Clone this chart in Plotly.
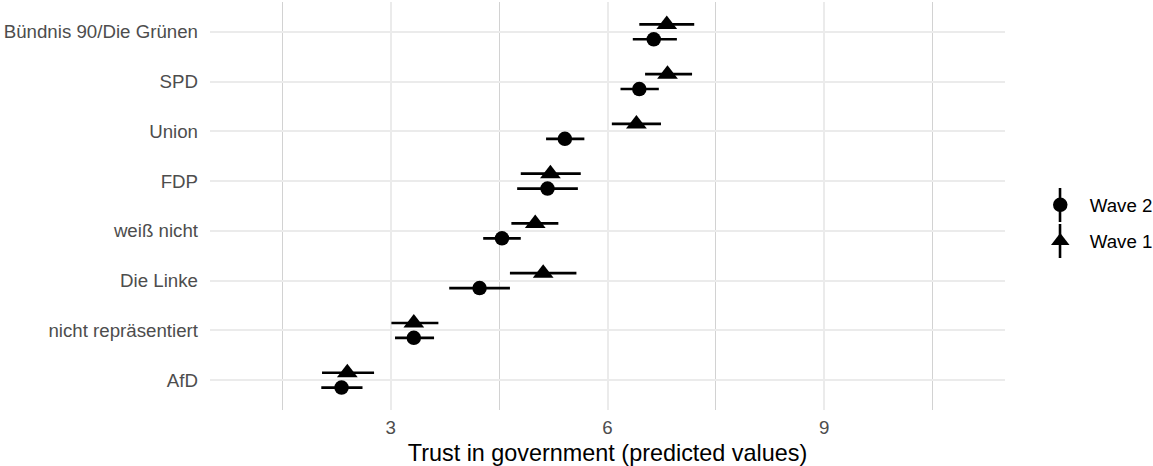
import plotly.graph_objects as go

# Categories (bottom to top)
categories = ["AfD", "nicht repräsentiert", "Die Linke", "weiß nicht",
              "FDP", "Union", "SPD", "Bündnis 90/Die Grünen"]

# Wave 2 (circles)
wave2_est = [2.32, 3.32, 4.23, 4.54, 5.17, 5.41, 6.44, 6.64]
wave2_lo  = [2.04, 3.06, 3.81, 4.28, 4.75, 5.15, 6.18, 6.35]
wave2_hi  = [2.61, 3.60, 4.65, 4.80, 5.59, 5.68, 6.71, 6.96]

# Wave 1 (triangles)
wave1_est = [2.40, 3.32, 5.11, 5.00, 5.21, 6.40, 6.83, 6.82]
wave1_lo  = [2.05, 3.01, 4.65, 4.67, 4.80, 6.06, 6.52, 6.44]
wave1_hi  = [2.77, 3.66, 5.57, 5.32, 5.63, 6.74, 7.17, 7.20]

x_ticks = [3, 6, 9]
x_minor = [1.5, 4.5, 7.5, 10.5]

FONT = "Liberation Sans, Arial, sans-serif"
dodge = 0.15
idx = list(range(1, len(categories) + 1))

def trace(name, est, lo, hi, offset, symbol, size, group):
    return go.Scatter(
        x=est,
        y=[i + offset for i in idx],
        mode="markers",
        name=name,
        legendgroup=group,
        marker=dict(symbol=symbol, size=size, color="black"),
        error_x=dict(type="data", symmetric=False,
                     array=[h - e for h, e in zip(hi, est)],
                     arrayminus=[e - l for e, l in zip(est, lo)],
                     color="black", thickness=2.6, width=0),
        showlegend=True,
    )

fig = go.Figure()
fig.add_trace(trace("Wave 2", wave2_est, wave2_lo, wave2_hi, -dodge, "circle", 14.5, "w2"))
fig.add_trace(trace("Wave 1", wave1_est, wave1_lo, wave1_hi, dodge, "triangle-up", 18, "w1"))

# vertical strokes of the pointrange legend keys (paper coordinates)
legend_key_lines = [(0.5441, 0.4608), (0.4559, 0.3725)]
for y0, y1 in legend_key_lines:
    fig.add_shape(type="line", xref="paper", yref="paper",
                  x0=1.0692, x1=1.0692, y0=y0, y1=y1,
                  line=dict(color="black", width=2.6))

fig.update_layout(
    width=1153, height=466,
    margin=dict(l=210, r=148, t=2, b=56, autoexpand=False),
    paper_bgcolor="white", plot_bgcolor="white",
    font=dict(family=FONT, color="black", size=18.7),
    xaxis=dict(
        range=[0.5, 11.5], automargin=False,
        tickmode="array", tickvals=x_ticks, ticktext=[str(t) for t in x_ticks],
        showgrid=True, gridcolor="#EBEBEB", gridwidth=2.3,
        zeroline=False, showline=False, ticks="",
        ticklabelstandoff=4,
        tickfont=dict(size=18.7, color="#4D4D4D"),
        minor=dict(tickmode="array", tickvals=x_minor, showgrid=True,
                   gridcolor="#D2D2D2", gridwidth=1, ticks=""),
        title=dict(text="Trust in government (predicted values)",
                   font=dict(size=23.4, color="black"), standoff=7),
    ),
    yaxis=dict(
        range=[0.4, 8.6], automargin=False,
        tickmode="array", tickvals=idx, ticktext=categories,
        showgrid=True, gridcolor="#EBEBEB", gridwidth=2.3,
        zeroline=False, showline=False, ticks="",
        ticklabelstandoff=11,
        tickfont=dict(size=18.7, color="#4D4D4D"),
    ),
    legend=dict(
        x=1.0324, y=0.458, xanchor="left", yanchor="middle",
        font=dict(size=18.7, color="black"),
        itemwidth=49,
        tracegroupgap=9, bgcolor="rgba(0,0,0,0)",
    ),
    showlegend=True,
)

fig.write_html("out.html",
               config={"displayModeBar": False},
               post_script="document.body.style.margin='0';document.body.style.overflow='hidden';")
